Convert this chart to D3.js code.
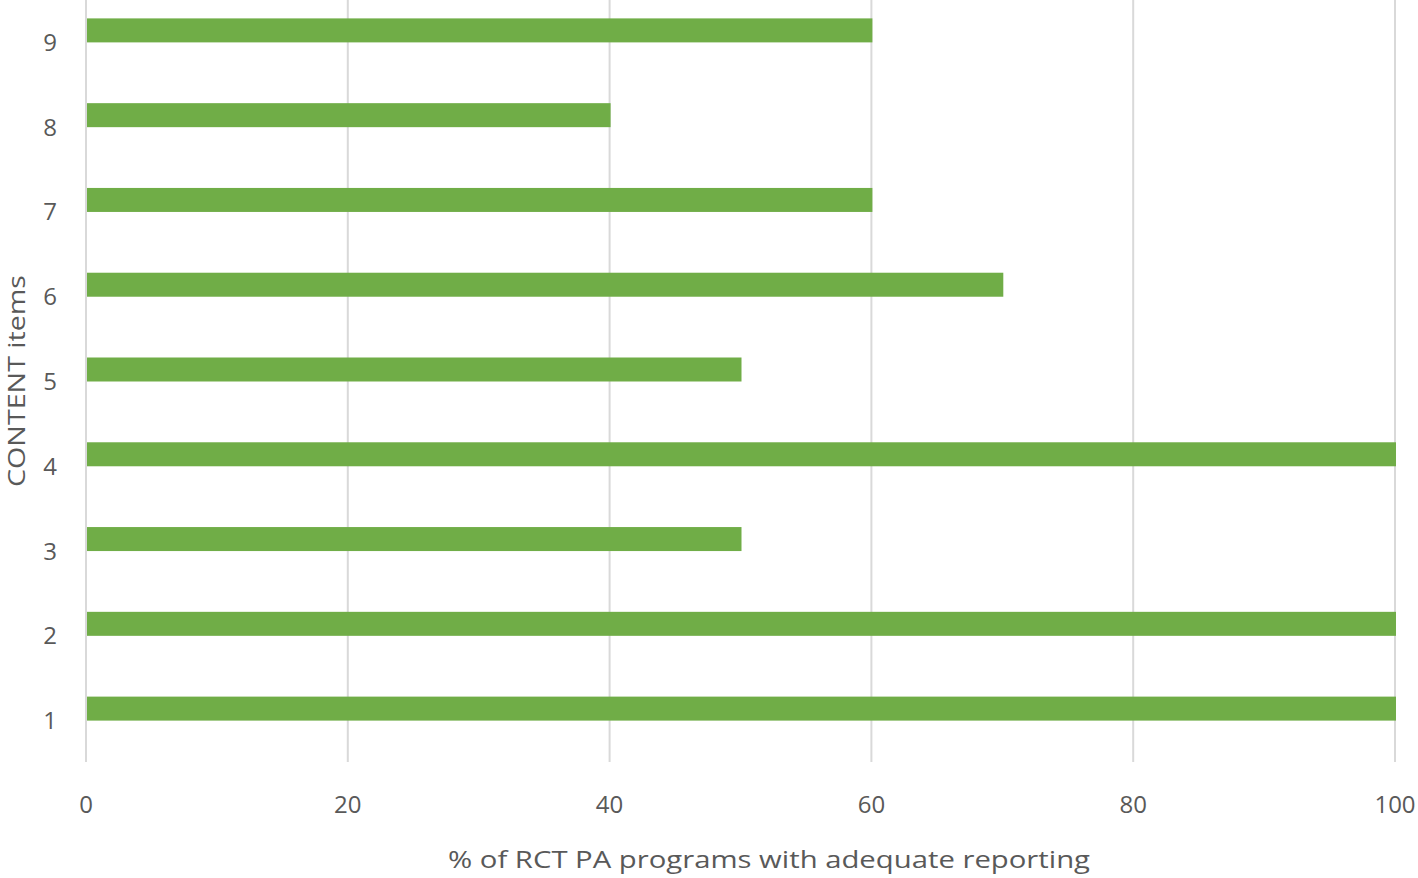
<!DOCTYPE html>
<html><head><meta charset="utf-8">
<script src="https://cdn.jsdelivr.net/npm/d3@7"></script>
<style>body{margin:0;background:#fff}svg{display:block}text{font-family:"Open Sans",sans-serif;fill:#595959}</style>
</head><body><svg id="c" width="1418" height="878"></svg>
<script>
const categories = ["1","2","3","4","5","6","7","8","9"];
const values = [100,100,50,100,50,70,60,40,60];
const xTicks = [0,20,40,60,80,100];
const xTitle = "% of RCT PA programs with adequate reporting";
const yTitle = "CONTENT items";

const svg = d3.select("#c");
const x = d3.scaleLinear().domain([0,100]).range([86,1395]);
const y = d3.scaleBand().domain(categories).range([751,-12]).paddingInner(0.72).paddingOuter(0.36);

svg.append("g").selectAll("line").data(xTicks).join("line")
  .attr("x1",d=>x(d)).attr("x2",d=>x(d)).attr("y1",0).attr("y2",762)
  .attr("stroke","#d9d9d9").attr("stroke-width",2);

svg.append("g").selectAll("rect").data(categories).join("rect")
  .attr("x",x(0)+1).attr("y",d=>y(d)+y.bandwidth()/2-12)
  .attr("width",(d,i)=>x(values[i])-x(0)).attr("height",24)
  .attr("fill","#70ad47");

svg.append("g").selectAll("text").data(categories).join("text")
  .attr("x",57).attr("y",d=>y(d)+y.bandwidth()/2+20.5)
  .attr("text-anchor","end").attr("font-size",24).text(d=>d);

svg.append("g").selectAll("text").data(xTicks).join("text")
  .attr("x",d=>x(d)).attr("y",813).attr("text-anchor","middle").attr("font-size",24).text(d=>d);

svg.append("text").attr("x",769).attr("y",868).attr("text-anchor","middle").attr("font-size",24)
  .attr("textLength",642).attr("lengthAdjust","spacingAndGlyphs").text(xTitle);
svg.append("text").attr("transform","translate(25,381) rotate(-90)").attr("text-anchor","middle").attr("font-size",24)
  .attr("textLength",212).attr("lengthAdjust","spacingAndGlyphs").text(yTitle);
</script></body></html>
